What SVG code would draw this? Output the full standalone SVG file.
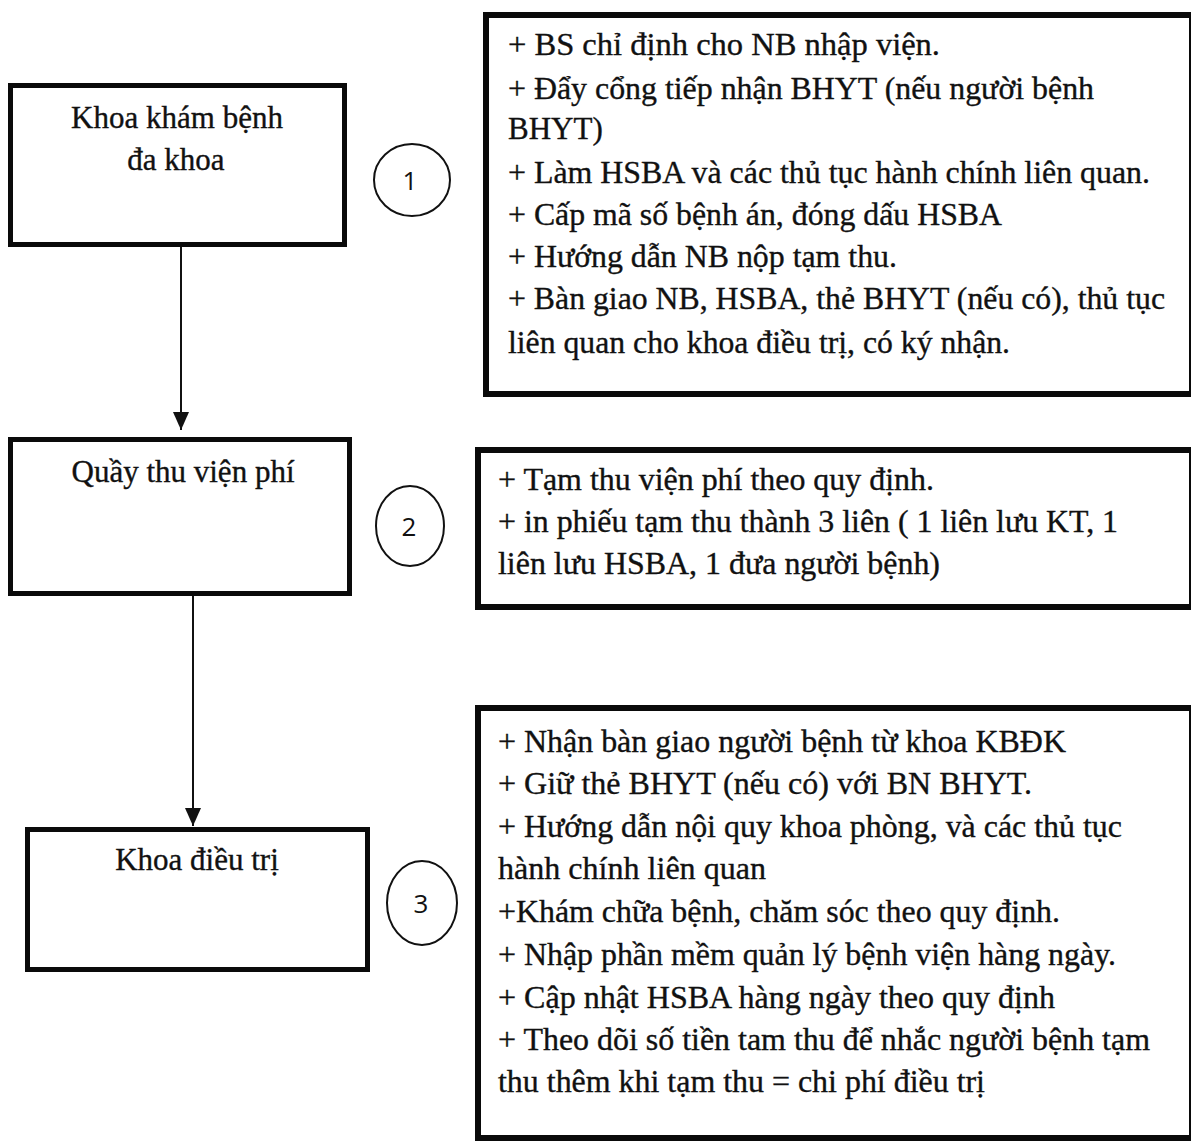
<svg xmlns="http://www.w3.org/2000/svg" width="1191" height="1141" viewBox="0 0 1191 1141">
<style>
.box{fill:none;stroke:#0a0a0a;stroke-width:5}
.rbox{fill:none;stroke:#0a0a0a;stroke-width:6}
.lbl{font-family:"Liberation Serif","Times New Roman",serif;font-size:31px;fill:#111;stroke:#111;stroke-width:0.35;text-anchor:middle}
.txt{font-family:"Liberation Serif","Times New Roman",serif;font-size:31px;fill:#111;stroke:#111;stroke-width:0.35}
.circ{fill:none;stroke:#111;stroke-width:2}
.num{font-family:"Open Sans","Liberation Sans",sans-serif;font-size:26px;fill:#111;text-anchor:middle}
.conn{stroke:#111;stroke-width:2;fill:none}
</style>
<defs>
<marker id="ah" viewBox="0 0 18 16" refX="18" refY="8" markerWidth="18" markerHeight="16" markerUnits="userSpaceOnUse" orient="auto">
<path d="M0,0 L18,8 L0,16 Z" fill="#111"/>
</marker>
</defs>
<rect width="1191" height="1141" fill="#fff"/>
<g id="connectors">
<line class="conn" x1="181" y1="247" x2="181" y2="430" marker-end="url(#ah)"/>
<line class="conn" x1="193" y1="596" x2="193" y2="826" marker-end="url(#ah)"/>
</g>
<g id="node-khoa-kham-benh">
<rect class="box" x="10.5" y="85.5" width="334" height="159"/>
<text class="lbl" x="177" y="128">Khoa khám bệnh</text>
<text class="lbl" x="176" y="170">đa khoa</text>
</g>
<g id="node-step1">
<ellipse class="circ" cx="412" cy="180" rx="38" ry="36"/>
<text class="num" x="410" y="190">1</text>
</g>
<g id="node-desc1">
<rect class="rbox" x="486" y="15" width="706" height="379"/>
<text class="txt" x="508" y="55" textLength="432" lengthAdjust="spacingAndGlyphs">+ BS chỉ định cho NB nhập viện.</text>
<text class="txt" x="508" y="99" textLength="586" lengthAdjust="spacingAndGlyphs">+ Đẩy cổng tiếp nhận BHYT (nếu người bệnh</text>
<text class="txt" x="508" y="139">BHYT)</text>
<text class="txt" x="508" y="183" textLength="642" lengthAdjust="spacingAndGlyphs">+ Làm HSBA và các thủ tục hành chính liên quan.</text>
<text class="txt" x="508" y="225" textLength="494" lengthAdjust="spacingAndGlyphs">+ Cấp mã số bệnh án, đóng dấu HSBA</text>
<text class="txt" x="508" y="267" textLength="389" lengthAdjust="spacingAndGlyphs">+ Hướng dẫn NB nộp tạm thu.</text>
<text class="txt" x="508" y="309" textLength="657" lengthAdjust="spacingAndGlyphs">+ Bàn giao NB, HSBA, thẻ BHYT (nếu có), thủ tục</text>
<text class="txt" x="508" y="353" textLength="502" lengthAdjust="spacingAndGlyphs">liên quan cho khoa điều trị, có ký nhận.</text>
</g>
<g id="node-quay-thu-vien-phi">
<rect class="box" x="10.5" y="439.5" width="339" height="154"/>
<text class="lbl" x="183" y="482">Quầy thu viện phí</text>
</g>
<g id="node-step2">
<ellipse class="circ" cx="410" cy="526" rx="34" ry="40"/>
<text class="num" x="409" y="536">2</text>
</g>
<g id="node-desc2">
<rect class="rbox" x="478" y="450" width="714" height="157"/>
<text class="txt" x="498" y="490" textLength="436" lengthAdjust="spacingAndGlyphs">+ Tạm thu viện phí theo quy định.</text>
<text class="txt" x="498" y="532" textLength="620" lengthAdjust="spacingAndGlyphs">+ in phiếu tạm thu thành 3 liên ( 1 liên lưu KT, 1</text>
<text class="txt" x="498" y="574" textLength="442" lengthAdjust="spacingAndGlyphs">liên lưu HSBA, 1 đưa người bệnh)</text>
</g>
<g id="node-khoa-dieu-tri">
<rect class="box" x="27.5" y="829.5" width="340" height="140"/>
<text class="lbl" x="197" y="870">Khoa điều trị</text>
</g>
<g id="node-step3">
<ellipse class="circ" cx="422" cy="903" rx="35" ry="42"/>
<text class="num" x="421" y="913">3</text>
</g>
<g id="node-desc3">
<rect class="rbox" x="478" y="708" width="714" height="430"/>
<text class="txt" x="498" y="752" textLength="568" lengthAdjust="spacingAndGlyphs">+ Nhận bàn giao người bệnh từ khoa KBĐK</text>
<text class="txt" x="498" y="794" textLength="534" lengthAdjust="spacingAndGlyphs">+ Giữ thẻ BHYT (nếu có) với BN BHYT.</text>
<text class="txt" x="498" y="837" textLength="624" lengthAdjust="spacingAndGlyphs">+ Hướng dẫn nội quy khoa phòng, và các thủ tục</text>
<text class="txt" x="498" y="879" textLength="268" lengthAdjust="spacingAndGlyphs">hành chính liên quan</text>
<text class="txt" x="498" y="922" textLength="562" lengthAdjust="spacingAndGlyphs">+Khám chữa bệnh, chăm sóc theo quy định.</text>
<text class="txt" x="498" y="965" textLength="618" lengthAdjust="spacingAndGlyphs">+ Nhập phần mềm quản lý bệnh viện hàng ngày.</text>
<text class="txt" x="498" y="1008" textLength="557" lengthAdjust="spacingAndGlyphs">+ Cập nhật HSBA hàng ngày theo quy định</text>
<text class="txt" x="498" y="1050" textLength="652" lengthAdjust="spacingAndGlyphs">+ Theo dõi số tiền tam thu để nhắc người bệnh tạm</text>
<text class="txt" x="498" y="1092" textLength="487" lengthAdjust="spacingAndGlyphs">thu thêm khi tạm thu = chi phí điều trị</text>
</g>
</svg>
